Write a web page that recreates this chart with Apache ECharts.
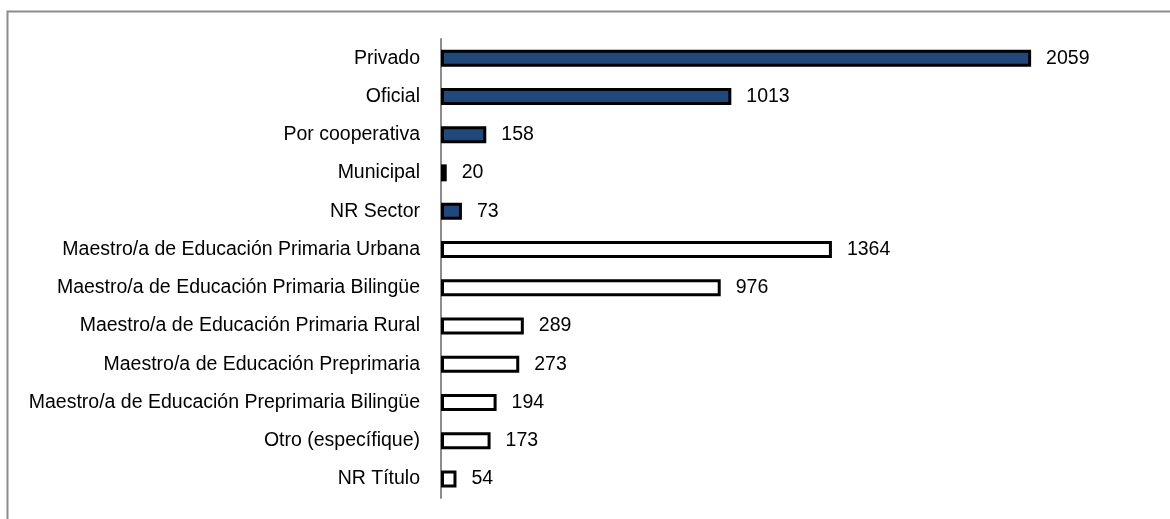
<!DOCTYPE html>
<html><head><meta charset="utf-8">
<script src="https://cdn.jsdelivr.net/npm/echarts@6/dist/echarts.min.js"></script>
<style>html,body{margin:0;padding:0;background:#fff}#c{width:1170px;height:519px}</style>
</head><body><div id="c"></div>
<script>
const categories = ["Privado","Oficial","Por cooperativa","Municipal","NR Sector",
  "Maestro/a de Educación Primaria Urbana","Maestro/a de Educación Primaria Bilingüe",
  "Maestro/a de Educación Primaria Rural","Maestro/a de Educación Preprimaria",
  "Maestro/a de Educación Preprimaria Bilingüe","Otro (específique)","NR Título"];
const sectorValues = [2059,1013,158,20,73,null,null,null,null,null,null,null];
const titleValues = [null,null,null,null,null,1364,976,289,273,194,173,54];

const chart = echarts.init(document.getElementById('c'));
const font = '"Liberation Sans", Arial, sans-serif';
const lbl = {show:true, position:'right', distance:15, color:'#000', fontSize:19.5, fontFamily:font};
chart.setOption({
  animation:false,
  grid:{left:441, top:39, width:716.5, height:459, containLabel:false},
  xAxis:{type:'value', min:0, max:2500, show:false},
  yAxis:{type:'category', data:categories, inverse:true,
    axisLine:{show:true, lineStyle:{color:'#8c8c8c', width:2}},
    axisTick:{show:false},
    axisLabel:{color:'#000', fontSize:19.5, fontFamily:font, margin:21}},
  graphic:[{type:'rect', shape:{x:7.5, y:11.5, width:1300, height:700},
    style:{fill:'none', stroke:'#8c8c8c', lineWidth:2}, silent:true}],
  series:[
    {type:'bar', stack:'s', data:sectorValues, barWidth:17,
      itemStyle:{color:'#1f497d', borderColor:'#000', borderWidth:3}, label:lbl},
    {type:'bar', stack:'s', data:titleValues, barWidth:17,
      itemStyle:{color:'#fff', borderColor:'#000', borderWidth:3}, label:lbl}
  ]
});
</script></body></html>
